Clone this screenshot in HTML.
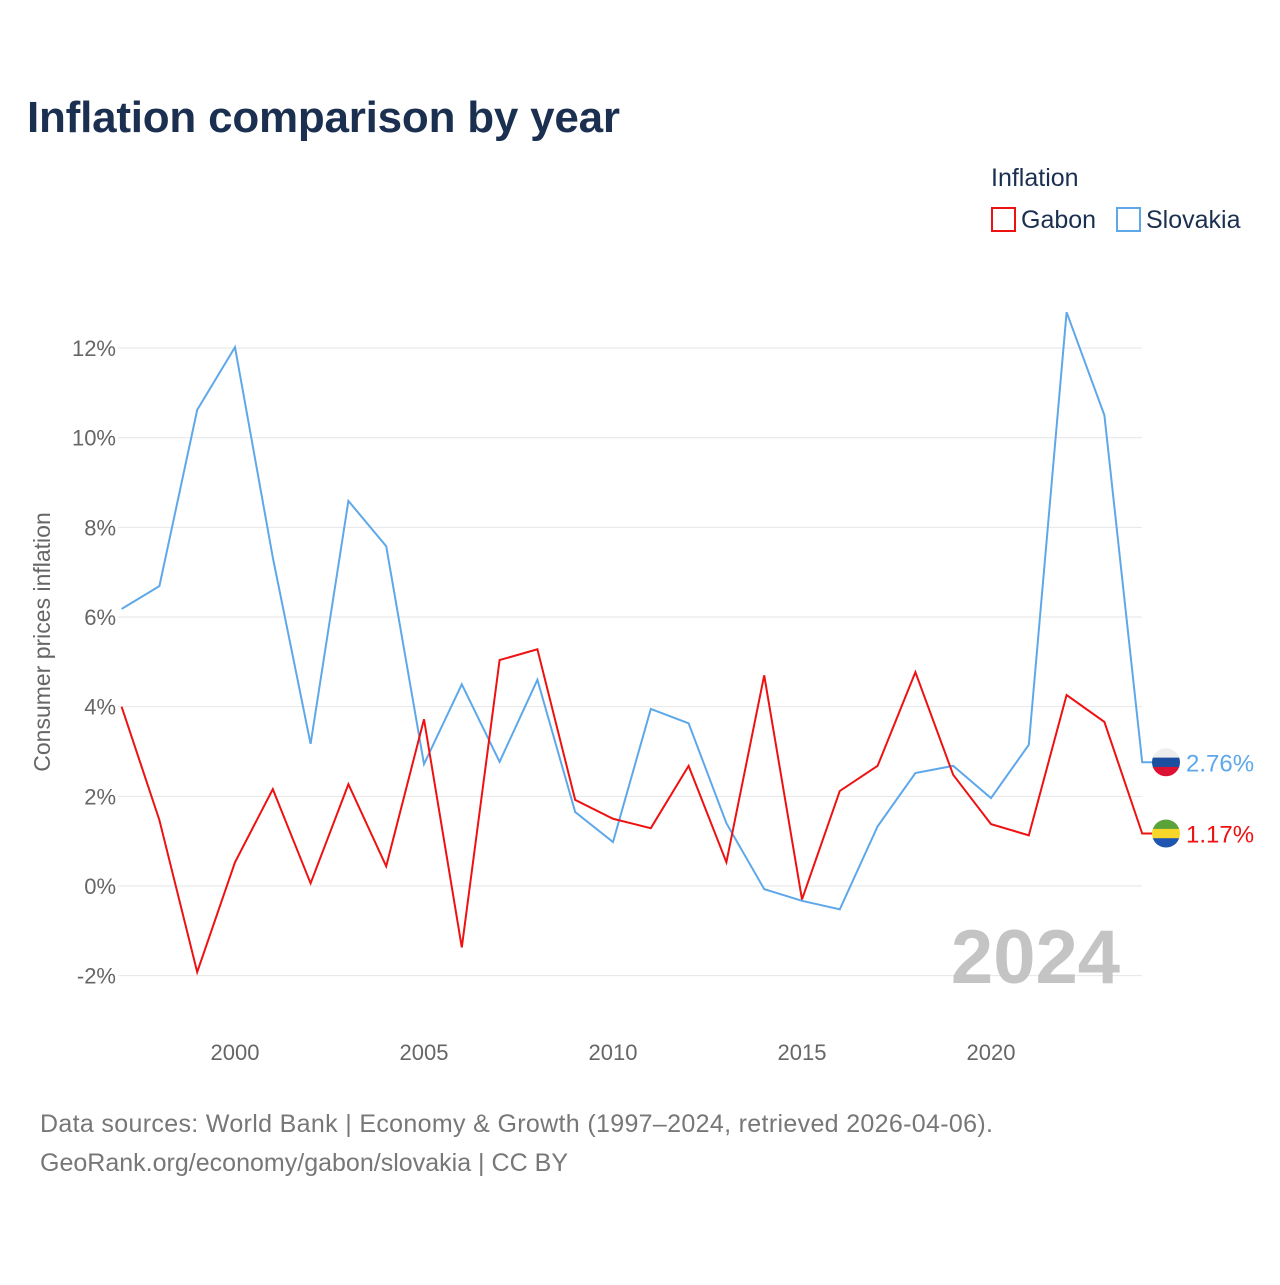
<!DOCTYPE html>
<html><head><meta charset="utf-8"><style>
body{margin:0;background:#fff;font-family:"Liberation Sans",sans-serif;}
svg text{font-family:"Liberation Sans",sans-serif;}
</style></head><body>
<svg id="chart" width="1280" height="1280" viewBox="0 0 1280 1280" xmlns="http://www.w3.org/2000/svg">
<text x="27" y="132" font-size="44" font-weight="bold" fill="#1b3050" textLength="593">Inflation comparison by year</text>
<g>
<text x="991" y="186" font-size="25" fill="#1b3050">Inflation</text>
<g><rect x="992" y="208" width="23" height="23" fill="none" stroke="#ee1111" stroke-width="2"/><text x="1021" y="228" font-size="25" fill="#1b3050">Gabon</text></g>
<g><rect x="1117" y="208" width="23" height="23" fill="none" stroke="#5ea8ea" stroke-width="2"/><text x="1146" y="228" font-size="25" fill="#1b3050">Slovakia</text></g>
</g>
<text transform="translate(50,642) rotate(-90)" text-anchor="middle" font-size="23" fill="#666">Consumer prices inflation</text>
<g id="grid"></g><g id="series"></g>
<text x="1120" y="983" text-anchor="end" font-size="76" font-weight="bold" fill="#c4c4c4">2024</text>
<text x="40" y="1132" font-size="25" fill="#777" textLength="953">Data sources: World Bank | Economy &amp; Growth (1997–2024, retrieved 2026-04-06).</text>
<text x="40" y="1171" font-size="25" fill="#777" textLength="528">GeoRank.org/economy/gabon/slovakia | CC BY</text>
</svg>
<script>
const years=[1997,1998,1999,2000,2001,2002,2003,2004,2005,2006,2007,2008,2009,2010,2011,2012,2013,2014,2015,2016,2017,2018,2019,2020,2021,2022,2023,2024];
const slovakia=[6.18,6.69,10.62,12.02,7.33,3.17,8.59,7.58,2.72,4.5,2.77,4.6,1.65,0.98,3.95,3.63,1.4,-0.07,-0.33,-0.52,1.33,2.52,2.68,1.96,3.15,12.8,10.5,2.76];
const gabon=[4.0,1.47,-1.92,0.53,2.16,0.06,2.27,0.44,3.72,-1.37,5.04,5.28,1.92,1.5,1.29,2.68,0.53,4.7,-0.3,2.12,2.68,4.77,2.48,1.38,1.13,4.26,3.66,1.17];
const yTicks=[-2,0,2,4,6,8,10,12];
const xTicks=[2000,2005,2010,2015,2020];
const NS="http://www.w3.org/2000/svg";
const X=y=>121.6+(y-1997)*37.8;
const Y=v=>886-v*44.83;
const grid=document.getElementById('grid'),ser=document.getElementById('series');
function mk(t,a,p){const e=document.createElementNS(NS,t);for(const k in a)e.setAttribute(k,a[k]);p.appendChild(e);return e;}
yTicks.forEach(v=>{
 const l=mk('line',{x1:118,x2:1142,y1:Y(v),y2:Y(v),stroke:'#e6e6e6','stroke-width':1},grid);
 
 
 const t=mk('text',{x:116,y:Y(v)+8,'text-anchor':'end','font-size':22,fill:'#666'},grid);
 t.textContent=v+'%';
 
 
});
xTicks.forEach(v=>{
 const t=mk('text',{x:X(v),y:1060,'text-anchor':'middle','font-size':22,fill:'#666'},grid);
 t.textContent=v;
 
 
});
function line(vals,col,name){
 let d=vals.map((v,i)=>(i?'L':'M')+X(years[i])+','+Y(vals[i])).join(' ');
 d+=' L'+(X(years[years.length-1])+10)+','+Y(vals[vals.length-1]);
 const p=mk('path',{d:d,fill:'none',stroke:col,'stroke-width':2},ser);
 
 
}
line(slovakia,'#5ea8ea','slovakia-line');
line(gabon,'#ee1111','gabon-line');
function endLabel(val,col,name,cols){
 const y=Y(val),cx=1166;
 const g=mk('g',{},ser);
 
 
 const cp='cp'+name;
 const c=mk('clipPath',{id:cp},g);mk('circle',{cx:cx,cy:y,r:14},c);
 cols.forEach((co,i)=>mk('rect',{x:cx-14,y:y-14+i*28/3,width:28,height:28/3+0.5,fill:co,'clip-path':'url(#'+cp+')'},g));
 const t=mk('text',{x:1186,y:y+9,'font-size':24,fill:col},g);
 t.textContent=val.toFixed(2)+'%';
}
endLabel(slovakia[slovakia.length-1],'#5ea8ea','slovakia-end-label',['#eeeeee','#1c4fa0','#dd1133']);
endLabel(gabon[gabon.length-1],'#ee1111','gabon-end-label',['#5aa33a','#f5d629','#1d55b0']);
</script>
</body></html>
